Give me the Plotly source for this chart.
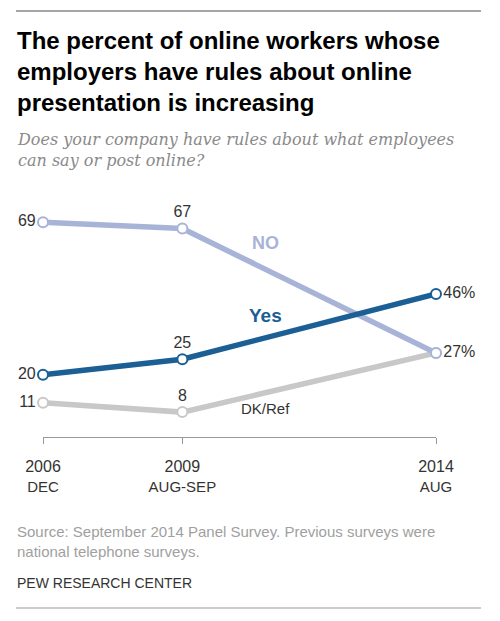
import plotly.graph_objects as go

# survey waves (fractional year = mid-point of fieldwork)
waves = [2006.95, 2009.67, 2014.62]
wave_years = ["2006", "2009", "2014"]
wave_months = ["DEC", "AUG-SEP", "AUG"]

# percentages by answer
no_vals = [69, 67, 27]
yes_vals = [20, 25, 46]
dk_vals = [11, 8, 27]

# point labels (blank = not shown)
no_text = ["69", "67", "27%"]
yes_text = ["20", "25", "46%"]
dk_text = ["11", "8", ""]

# page body adds 8px margin, so shift everything up/left by that
OFF = 8
W, H = 500 - OFF, 621 - OFF
L, R, T, B = 43 - OFF, 436 - OFF, 213 - OFF, 437 - OFF
pw, ph = R - L, B - T

def px_x(p):
    return (p - OFF - L) / pw

def px_y(p):
    return (B - (p - OFF)) / ph

c_no = "#a7b4d8"
c_yes = "#1c5f94"
c_dk = "#c8c8c8"
txt = "#333333"
font = "Liberation Sans"

fig = go.Figure()

def add_series(vals, labels, color, positions):
    fig.add_trace(go.Scatter(
        x=waves, y=vals, mode="lines+markers+text",
        text=labels, textposition=positions,
        textfont=dict(family=font, size=16, color=txt),
        line=dict(color=color, width=5.5),
        marker=dict(size=10, color="white", line=dict(color=color, width=2)),
        cliponaxis=False, showlegend=False, hoverinfo="skip",
    ))

add_series(dk_vals, dk_text, c_dk, ["middle left", "top center", "middle right"])
add_series(no_vals, no_text, c_no, ["middle left", "top center", "middle right"])
add_series(yes_vals, yes_text, c_yes, ["middle left", "top center", "middle right"])

# series names
fig.add_annotation(x=2011.3, y=62.5, text="<b>NO</b>", showarrow=False,
                   font=dict(family=font, size=18, color=c_no))
fig.add_annotation(x=2011.3, y=39, text="<b>Yes</b>", showarrow=False,
                   font=dict(family=font, size=19, color=c_yes))
fig.add_annotation(x=2011.3, y=9.3, text="DK/Ref", showarrow=False,
                   font=dict(family=font, size=15, color=txt))

# title, subtitle, footer
fig.add_annotation(xref="paper", yref="paper", x=px_x(15), y=px_y(25),
                   xanchor="left", yanchor="top", align="left", showarrow=False,
                   text="<b>The percent of online workers whose<br>employers have rules about online<br>presentation is increasing</b>",
                   font=dict(family=font, size=24, color="#000000"))
fig.add_annotation(xref="paper", yref="paper", x=px_x(15), y=px_y(128),
                   xanchor="left", yanchor="top", align="left", showarrow=False,
                   text="<i>Does your company have rules about what employees<br>can say or post online?</i>",
                   font=dict(family="DejaVu Serif", size=16, color="#8a8a8a"))
fig.add_annotation(xref="paper", yref="paper", x=px_x(15), y=px_y(521),
                   xanchor="left", yanchor="top", align="left", showarrow=False,
                   text="Source: September 2014 Panel Survey. Previous surveys were<br>national telephone surveys.",
                   font=dict(family=font, size=15, color="#a0a0a0"))
fig.add_annotation(xref="paper", yref="paper", x=px_x(15), y=px_y(573),
                   xanchor="left", yanchor="top", align="left", showarrow=False,
                   text="PEW RESEARCH CENTER",
                   font=dict(family=font, size=14, color=txt))

# top and bottom rules
for yy, col in [(11, "#888888"), (608, "#bbbbbb")]:
    fig.add_shape(type="line", xref="paper", yref="paper",
                  x0=px_x(16), x1=px_x(481), y0=px_y(yy), y1=px_y(yy),
                  line=dict(color=col, width=1.5))

fig.update_xaxes(
    range=[waves[0], waves[-1]], showgrid=False, zeroline=False,
    showline=True, linecolor="#999999", linewidth=1,
    ticks="outside", ticklen=6, tickcolor="#999999",
    ticklabelstandoff=10,
    tickvals=waves,
    ticktext=[f"<span style='font-size:16px'>{y}</span><br>{m}"
              for y, m in zip(wave_years, wave_months)],
    tickfont=dict(family=font, size=15, color=txt),
)
fig.update_yaxes(range=[0, 72], visible=False)

fig.update_layout(
    width=W, height=H,
    margin=dict(l=L, r=W - R, t=T, b=H - B),
    paper_bgcolor="white", plot_bgcolor="white",
)

fig.write_html("out.html")
